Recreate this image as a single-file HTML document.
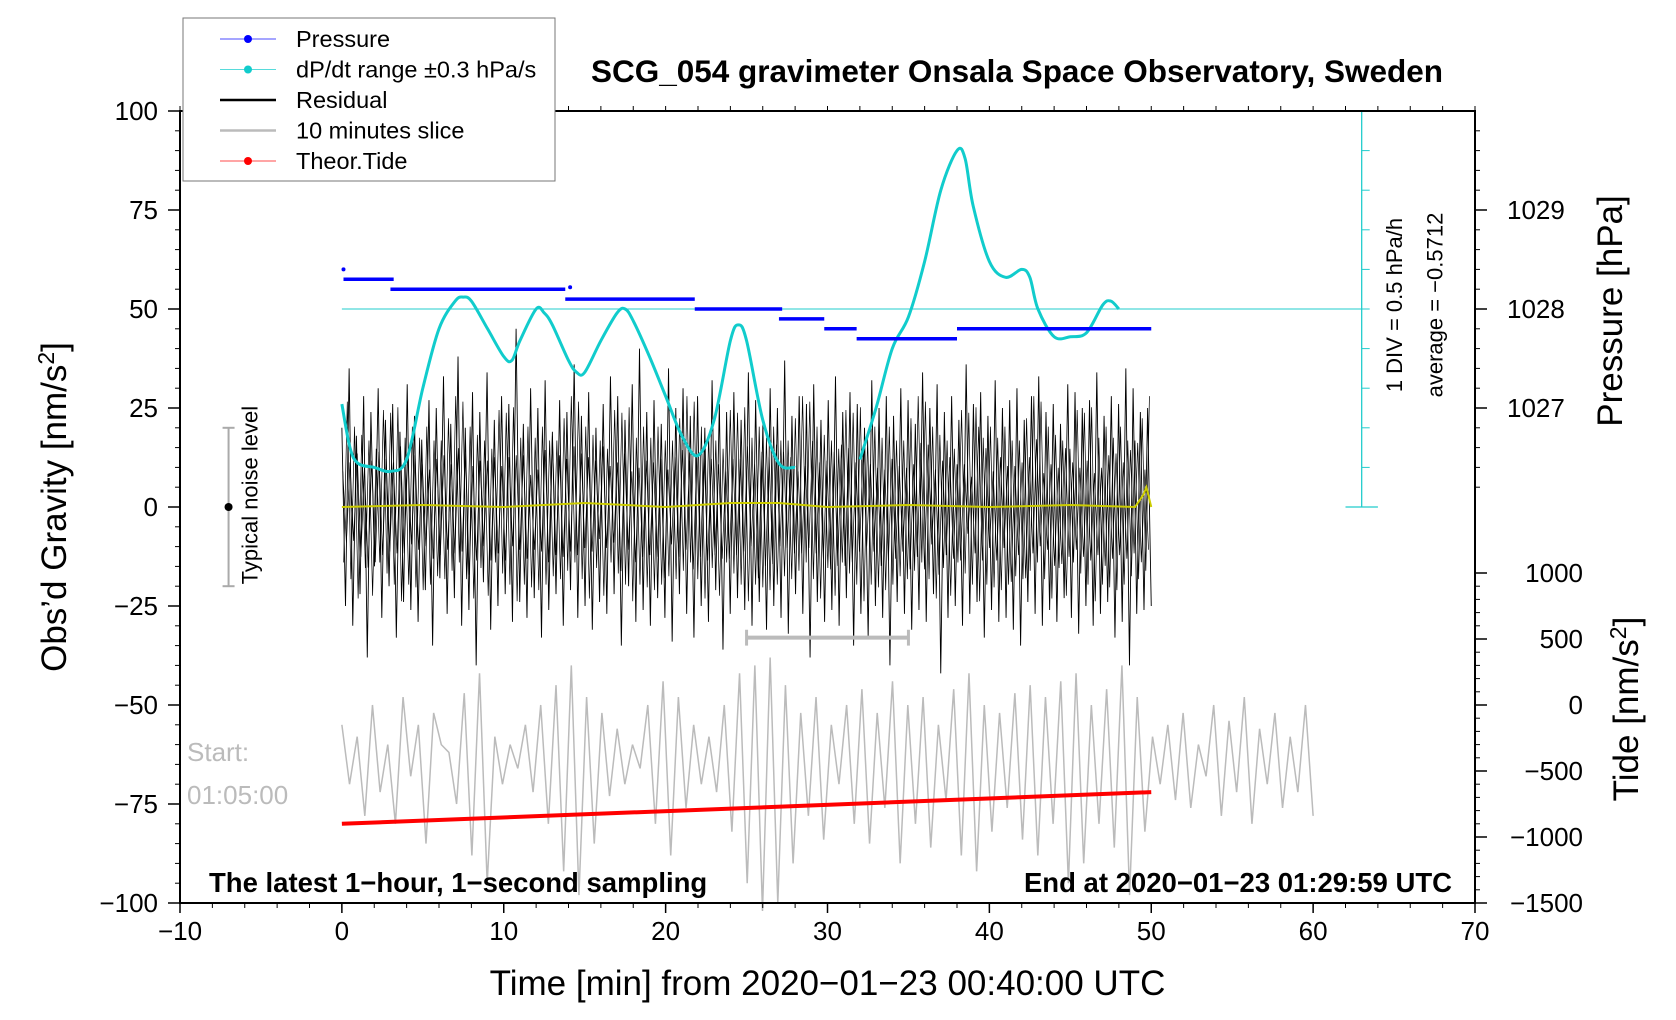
<!DOCTYPE html>
<html><head><meta charset="utf-8"><style>
html,body{margin:0;padding:0;background:#fff}
svg{display:block;font-family:"Liberation Sans",sans-serif}
</style></head><body>
<svg id="c" width="1676" height="1020" viewBox="0 0 1676 1020"></svg>
<script>
// ---- data ----
const xTicks=[-10,0,10,20,30,40,50,60,70];
const yTicks=[100,75,50,25,0,-25,-50,-75,-100];
const yTickLabels=["100","75","50","25","0","\u221225","\u221250","\u221275","\u2212100"];
const pTicks=[1027,1028,1029];
const tideTicks=[1000,500,0,-500,-1000,-1500];
const tideTickLabels=["1000","500","0","\u2212500","\u22121000","\u22121500"];
const cyanT=[0,0.5,1,2,3,4,5,6,7,7.5,8,9,10,10.5,11,12,12.5,13,14,14.5,15,16,17,17.5,18,19,20,21,22,23,24,24.5,25,26,27,28];
const cyanV=[26,15,11,10,9,12,30,45,52,53,52,45,38,37,42,50,49,46,37,34,34,42,49,50,47,38,28,18,13,22,42,46,42,22,11,10];
const cyan2T=[32,33,34,35,36,37,38,38.5,39,40,41,42,42.5,43,44,45,46,47,47.5,48];
const cyan2V=[12,25,40,48,62,80,90,88,76,62,58,60,58,50,43,43,44,51,52,50];
const presStart=[0.1,3,13.8,21.8,27,29.8,31.8,38];
const presEnd=[3.2,13.8,21.8,27.2,29.8,31.8,38,50];
const presVal=[57.5,55,52.5,50,47.5,45,42.5,45];
const residual=[20,-25,35,-30,18,-22,28,-38,24,-15,30,-28,22,-20,26,-33,19,-24,31,-26,23,-29,17,-21,27,-35,25,-18,33,-27,21,-23,38,-30,20,-26,29,-40,24,-19,34,-31,22,-25,28,-22,26,-29,45,-24,21,-28,30,-23,25,-33,32,-26,19,-22,27,-30,24,-21,36,-28,23,-25,29,-31,20,-24,26,-27,33,-22,28,-35,22,-20,31,-29,40,-26,24,-30,27,-23,21,-28,35,-34,25,-22,30,-27,23,-33,28,-25,20,-29,32,-21,26,-36,24,-27,29,-23,22,-26,34,-30,27,-24,21,-31,30,-25,25,-28,37,-32,23,-22,28,-27,26,-38,31,-24,22,-29,27,-26,33,-30,24,-23,29,-35,26,-27,20,-33,32,-25,25,-28,28,-40,23,-24,30,-27,27,-31,21,-26,34,-29,25,-22,31,-42,24,-28,28,-25,22,-30,36,-27,26,-24,29,-33,23,-26,32,-29,25,-28,27,-31,30,-35,22,-24,28,-27,33,-30,24,-26,26,-29,21,-23,31,-28,29,-32,25,-25,27,-30,34,-27,23,-24,28,-33,26,-29,35,-40,30,-27,24,-26,25,-25];
const slice=[-55,-70,-58,-78,-50,-72,-60,-80,-48,-68,-55,-85,-52,-60,-62,-75,-47,-88,-42,-95,-58,-70,-60,-66,-55,-72,-50,-80,-45,-92,-40,-98,-48,-85,-52,-73,-56,-70,-60,-66,-50,-80,-44,-88,-48,-76,-55,-70,-58,-72,-50,-82,-42,-95,-40,-102,-38,-100,-45,-90,-52,-78,-48,-84,-55,-70,-50,-80,-46,-85,-52,-76,-44,-90,-50,-80,-48,-86,-55,-74,-46,-88,-42,-92,-50,-82,-52,-76,-47,-84,-45,-88,-48,-80,-44,-95,-42,-90,-50,-80,-46,-86,-40,-98,-48,-82,-58,-70,-55,-74,-52,-76,-60,-68,-50,-78,-54,-72,-48,-80,-56,-70,-52,-76,-58,-72,-50,-78];
const tideT=[0,50];
const tideV=[-80,-72];
const yellowT=[0,5,10,15,20,24,27,30,35,40,45,49,49.5,49.7,50];
const yellowV=[0,0.5,0,1,0,1,1,0,0.5,0,0.5,0,3,5,0];
// ---- geometry ----
const L=180,R=1475,T=111,B=903;
const X=v=>L+(v+10)*(R-L)/80;
const Y=v=>B-(v+100)*(B-T)/200;
const svg=document.getElementById('c');
const NS='http://www.w3.org/2000/svg';
function mk(tag,attrs,parent){const e=document.createElementNS(NS,tag);for(const k in attrs)e.setAttribute(k,attrs[k]);(parent||svg).appendChild(e);return e;}
function txt(s,attrs,parent){const e=mk('text',attrs,parent);e.textContent=s;return e;}
function smooth(P){let d='M'+P[0][0]+','+P[0][1];for(let i=0;i<P.length-1;i++){const p0=P[i-1]||P[i],p1=P[i],p2=P[i+1],p3=P[i+2]||p2;
 d+=' C'+(p1[0]+(p2[0]-p0[0])/6)+','+(p1[1]+(p2[1]-p0[1])/6)+' '+(p2[0]-(p3[0]-p1[0])/6)+','+(p2[1]-(p3[1]-p1[1])/6)+' '+p2[0]+','+p2[1];}return d;}
let e;
// slice (gray)
let pts=slice.map((v,i)=>X(i*60/(slice.length-1))+','+Y(v)).join(' ');
e=mk('polyline',{points:pts,fill:'none',stroke:'#bbb','stroke-width':1.5});


// residual
const n=residual.length;
pts=residual.map((v,i)=>X(i*50/(n-1))+','+Y(v)).join(' ');
e=mk('polyline',{points:pts,fill:'none',stroke:'#000','stroke-width':0.9});


pts=residual.map((v,i)=>X((i+0.5)*50/n)+','+Y(-residual[(i*7)%n]*0.7)).join(' ');
e=mk('polyline',{points:pts,fill:'none',stroke:'#000','stroke-width':0.7});


pts=residual.map((v,i)=>X((i+0.25)*50/n)+','+Y(residual[(i*13)%n]*0.45)).join(' ');
e=mk('polyline',{points:pts,fill:'none',stroke:'#000','stroke-width':0.7});


// yellow
pts=yellowT.map((t,i)=>X(t)+','+Y(yellowV[i])).join(' ');
e=mk('polyline',{points:pts,fill:'none',stroke:'#cc0','stroke-width':2});


// tide red
e=mk('line',{x1:X(tideT[0]),y1:Y(tideV[0]),x2:X(tideT[1]),y2:Y(tideV[1]),stroke:'#f00','stroke-width':4});


// cyan ref line and axis
e=mk('line',{x1:X(0),y1:Y(50),x2:X(63),y2:Y(50),stroke:'#2cc','stroke-width':1});


e=mk('line',{x1:X(63),y1:Y(100),x2:X(63),y2:Y(0),stroke:'#2cc','stroke-width':1.3});


for(let v=0;v<=100;v+=10){mk('line',{x1:X(63),y1:Y(v),x2:X(63)+(v%100==0?16:8),y2:Y(v),stroke:'#2cc','stroke-width':1});}
mk('line',{x1:X(62),y1:Y(0),x2:X(64),y2:Y(0),stroke:'#2cc','stroke-width':1.3});
txt('1 DIV = 0.5 hPa/h',{x:0,y:0,'font-size':22,'text-anchor':'middle',transform:`translate(${X(65.5)},${Y(51)}) rotate(-90)`});
txt('average = \u22120.5712',{x:0,y:0,'font-size':22,'text-anchor':'middle',transform:`translate(${X(68)},${Y(51)}) rotate(-90)`});
// cyan curves
[[cyanT,cyanV],[cyan2T,cyan2V]].forEach((d,j)=>{
 e=mk('path',{d:smooth(d[0].map((t,i)=>[X(t),Y(d[1][i])])),fill:'none',stroke:'#1cc','stroke-width':3,'stroke-linejoin':'round'});
 
 
});
// pressure
presVal.forEach((v,i)=>{
 e=mk('line',{x1:X(presStart[i]),y1:Y(v),x2:X(presEnd[i]),y2:Y(v),stroke:'#00f','stroke-width':3.5});
 
 
});
mk('circle',{cx:X(0.1),cy:Y(60),r:2,fill:'#00f'});
mk('circle',{cx:X(14.1),cy:Y(55.5),r:2,fill:'#00f'});
// gray 10-min bar
mk('line',{x1:X(25),y1:Y(-33),x2:X(35),y2:Y(-33),stroke:'#bbb','stroke-width':4});
mk('line',{x1:X(25),y1:Y(-31),x2:X(25),y2:Y(-35),stroke:'#bbb','stroke-width':3});
mk('line',{x1:X(35),y1:Y(-31),x2:X(35),y2:Y(-35),stroke:'#bbb','stroke-width':3});
// noise bar
e=mk('line',{x1:X(-7),y1:Y(20),x2:X(-7),y2:Y(-20),stroke:'#aaa','stroke-width':2});


mk('line',{x1:X(-7)-6,y1:Y(20),x2:X(-7)+6,y2:Y(20),stroke:'#aaa','stroke-width':2});
mk('line',{x1:X(-7)-6,y1:Y(-20),x2:X(-7)+6,y2:Y(-20),stroke:'#aaa','stroke-width':2});
mk('circle',{cx:X(-7),cy:Y(0),r:4,fill:'#000'});
txt('Typical noise level',{x:0,y:0,'font-size':22,'text-anchor':'middle',transform:`translate(${X(-5.2)},${Y(3)}) rotate(-90)`});
// frame & ticks
mk('rect',{x:L,y:T,width:R-L,height:B-T,fill:'none',stroke:'#000','stroke-width':2});
xTicks.forEach(v=>{mk('line',{x1:X(v),y1:B,x2:X(v),y2:B+10,stroke:'#000','stroke-width':1.5});
 e=txt(String(v).replace('-','\u2212'),{x:X(v),y:B+37,'font-size':26,'text-anchor':'middle'});
 });
for(let v=-10;v<=70;v+=2){mk('line',{x1:X(v),y1:B,x2:X(v),y2:B+5,stroke:'#000'});mk('line',{x1:X(v),y1:T,x2:X(v),y2:T-5,stroke:'#000'});}
yTicks.forEach((v,i)=>{mk('line',{x1:L-12,y1:Y(v),x2:L,y2:Y(v),stroke:'#000','stroke-width':1.5});
 e=txt(yTickLabels[i],{x:L-22,y:Y(v)+9,'font-size':26,'text-anchor':'end'});
 });
for(let v=-100;v<=100;v+=5)mk('line',{x1:L-5,y1:Y(v),x2:L,y2:Y(v),stroke:'#000'});
const PY=p=>Y(50+(p-1028)*25), TY=t=>Y(-50+t/30);
pTicks.forEach(p=>{mk('line',{x1:R,y1:PY(p),x2:R+12,y2:PY(p),stroke:'#000','stroke-width':1.5});
 e=txt(String(p),{x:R+32,y:PY(p)+9,'font-size':26});});
for(let p=1026.2;p<=1029.9;p+=0.2)mk('line',{x1:R,y1:PY(p),x2:R+5,y2:PY(p),stroke:'#000'});
tideTicks.forEach((t,i)=>{mk('line',{x1:R,y1:TY(t),x2:R+12,y2:TY(t),stroke:'#000','stroke-width':1.5});
 e=txt(tideTickLabels[i],{x:R+108,y:TY(t)+9,'font-size':26,'text-anchor':'end'});});
for(let t=-1500;t<=1000;t+=100)mk('line',{x1:R,y1:TY(t),x2:R+5,y2:TY(t),stroke:'#000'});
// titles
txt('Time [min] from 2020\u221201\u221223 00:40:00 UTC',{x:X(30),y:B+92,'font-size':35,'text-anchor':'middle'});
e=mk('text',{x:0,y:0,'font-size':35,'text-anchor':'middle',transform:`translate(66,${Y(0)}) rotate(-90)`});
e.innerHTML='Obs\u2019d Gravity [nm/s<tspan dy="-12" font-size="23">2</tspan><tspan dy="12">]</tspan>';

txt('Pressure [hPa]',{x:0,y:0,'font-size':35,'text-anchor':'middle',transform:`translate(1622,311) rotate(-90)`});
e=mk('text',{x:0,y:0,'font-size':35,'text-anchor':'middle',transform:`translate(1638,709) rotate(-90)`});
e.innerHTML='Tide [nm/s<tspan dy="-12" font-size="23">2</tspan><tspan dy="12">]</tspan>';

txt('SCG_054 gravimeter Onsala Space Observatory, Sweden',{x:1017,y:82,'font-size':31.5,'font-weight':'bold','text-anchor':'middle'});
txt('The latest 1\u2212hour, 1\u2212second sampling',{x:209,y:892,'font-size':27.5,'font-weight':'bold'});
txt('End at 2020\u221201\u221223 01:29:59 UTC',{x:1452,y:892,'font-size':27.5,'font-weight':'bold','text-anchor':'end'});
txt('Start:',{x:187,y:761,'font-size':26,fill:'#bbb'});
txt('01:05:00',{x:187,y:804,'font-size':26,fill:'#bbb'});
// legend
const lg=mk('g',{});
mk('rect',{x:183,y:18,width:372,height:163,fill:'#fff',stroke:'#777','stroke-width':1},lg);
const legNames=['Pressure','dP/dt range \u00b10.3 hPa/s','Residual','10 minutes slice','Theor.Tide'];
const legCol=['#00f','#1cc','#000','#bbb','#f00'];
legNames.forEach((nm,i)=>{const y=39+i*30.5;
 mk('line',{x1:220,y1:y,x2:276,y2:y,stroke:legCol[i],'stroke-width':(i==2||i==3)?2.5:1,opacity:(i==2||i==3)?1:0.7},lg);
 if(i!=2&&i!=3)mk('circle',{cx:248,cy:y,r:4,fill:legCol[i]},lg);
 const t=txt(nm,{x:296,y:y+8,'font-size':23.5},lg);});
</script>
</body></html>
